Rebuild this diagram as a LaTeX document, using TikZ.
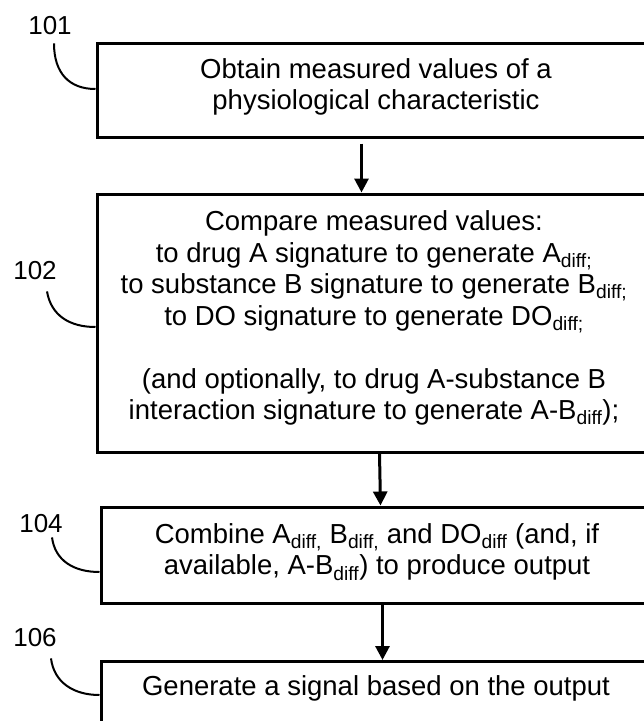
\documentclass[tikz,border=0pt]{standalone}
\usepackage{fontspec}
\setmainfont{Liberation Sans}
\usetikzlibrary{arrows.meta,calc}
\begin{document}
\begin{tikzpicture}[x=1pt,y=-1pt,
  box/.style={draw,line width=3pt,rectangle,inner sep=0pt},
  txt/.style={align=center,font=\fontsize{27.5}{31.5}\selectfont,inner sep=0pt},
  lbl/.style={font=\fontsize{26}{30}\selectfont,inner sep=0pt},
  lead/.style={line width=2pt},
  flow/.style={line width=3pt,-{Triangle[length=14pt,width=14pt]}}]
\useasboundingbox (0,0) rectangle (644,721);
\clip (0,0) rectangle (644,721);

% boxes
\node[box,minimum width=580pt,minimum height=94pt] (b1) at (387,90) {};
\node[box,minimum width=580pt,minimum height=258pt] (b2) at (387,323) {};
\node[box,minimum width=576pt,minimum height=96pt] (b3) at (389,555) {};
\node[box,minimum width=576pt,minimum height=100pt,anchor=north] (b4) at (389,660) {};

% texts
\node[txt] (t1) at (376,87) {Obtain measured values of a\\physiological characteristic};
\node[txt] (t2) at (374,318) {Compare measured values:\\
to drug A signature to generate A\textsubscript{diff;}\\
to substance B signature to generate B\textsubscript{diff;}\\
to DO signature to generate DO\textsubscript{diff;}\\[31.5pt]
(and optionally, to drug A-substance B\\
interaction signature to generate A-B\textsubscript{diff});};
\node[txt] (t3) at (377,552) {Combine A\textsubscript{diff,} B\textsubscript{diff,} and DO\textsubscript{diff} (and, if\\available, A-B\textsubscript{diff}) to produce output};
\node[txt] (t4) at (376,688) {Generate a signal based on the output};

% reference labels
\node[lbl] (l1) at (50,26) {101};
\node[lbl] (l2) at (35,271) {102};
\node[lbl] (l3) at (41,524) {104};
\node[lbl] (l4) at (35,638) {106};

% leader curves
\draw[lead] ([xshift=4pt,yshift=-8pt]l1.south) .. controls +(0,30) and +(-26,0) .. ([yshift=1pt]b1.west);
\draw[lead] ([xshift=12pt,yshift=-11pt]l2.south) .. controls +(4,24) and +(-26,0) .. ([yshift=-4pt]b2.west);
\draw[lead] ([xshift=11pt,yshift=-4pt]l3.south) .. controls +(3,23) and +(-26,0) .. ([yshift=-17pt]b3.west);
\draw[lead] ([xshift=16pt,yshift=-11pt]l4.south) .. controls +(3,24) and +(-26,0) .. ([yshift=-35pt]b4.north west);

% flow arrows
\draw[flow] ([xshift=266pt,yshift=-5pt]b1.south west) -- ([xshift=266pt]b2.north west);
\draw[flow] ([xshift=284pt]b2.south west) -- ([xshift=281pt]b3.north west);
\draw[flow] ([xshift=283pt]b3.south west) -- ([xshift=283pt]b4.north west);
\end{tikzpicture}
\end{document}
